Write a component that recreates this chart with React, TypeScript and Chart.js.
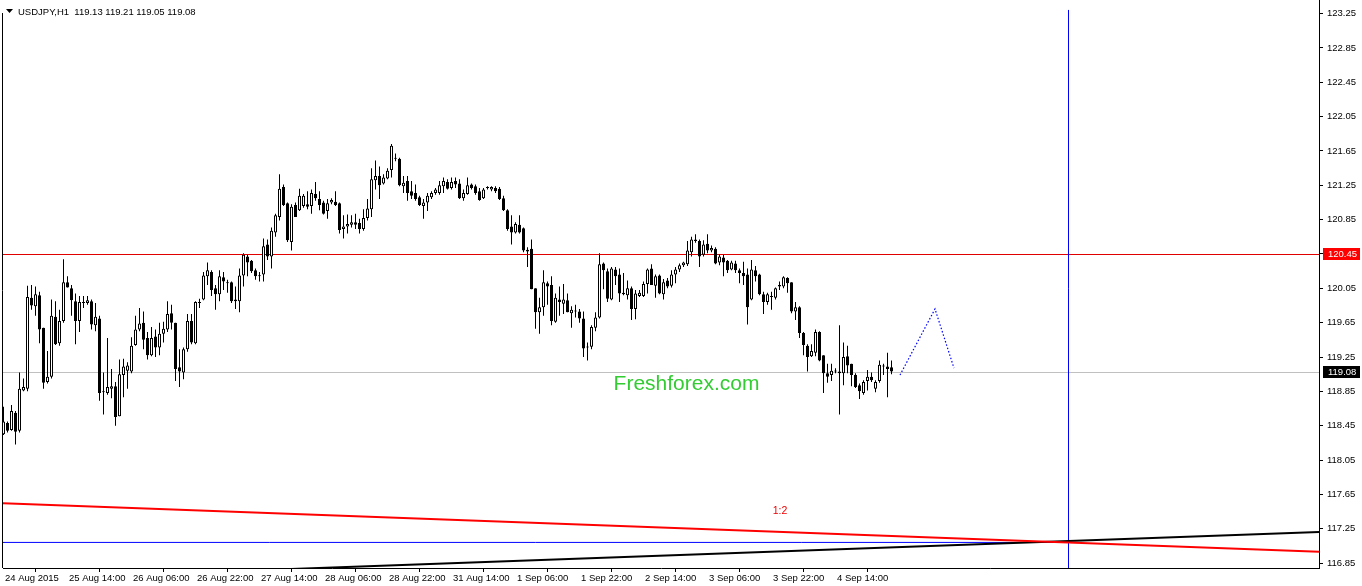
import React, { useEffect, useRef } from "react";
import { Chart, registerables } from "chart.js";

Chart.register(...registerables);

// ---------- DATA ----------
const symbolName = "USDJPY,H1";

const opens = [
  119.00,118.35,118.48,118.40,118.60,118.39,118.86,118.88,119.94,119.84,
  119.97,119.59,118.96,119.02,119.72,119.41,119.67,120.12,120.05,119.90,
  119.67,119.89,119.88,119.90,119.62,119.70,118.84,118.83,118.88,118.91,
  118.56,119.04,119.09,119.08,119.39,119.57,119.65,119.47,119.27,119.49,
  119.36,119.52,119.57,119.76,119.65,119.13,119.07,119.34,119.67,119.41,
  119.89,119.92,120.19,120.24,120.05,119.98,120.18,120.12,120.12,119.90,
  119.90,120.20,120.42,120.37,120.26,120.20,120.21,120.56,120.42,120.70,
  120.88,121.23,121.04,120.59,121.02,120.96,121.01,121.03,121.01,121.15,
  121.09,121.05,120.95,121.05,121.06,121.04,120.74,120.77,120.79,120.82,
  120.81,120.74,120.87,120.97,121.31,121.36,121.27,121.33,121.43,121.57,
  121.56,121.24,121.30,121.18,121.16,121.11,121.01,121.05,121.11,121.16,
  121.16,121.24,121.29,121.22,121.30,121.27,121.10,121.15,121.26,121.24,
  121.18,121.10,121.22,121.20,121.22,121.21,121.10,120.96,120.77,120.70,
  120.79,120.75,120.50,120.51,120.05,119.77,119.83,120.11,120.09,119.66,
  119.92,119.87,119.91,119.76,119.79,119.78,119.70,119.37,119.37,119.59,
  119.71,120.34,120.25,119.92,120.27,120.21,120.00,119.97,120.05,119.81,
  119.96,119.96,120.10,120.28,120.08,120.20,119.98,120.14,120.08,120.21,
  120.27,120.32,120.33,120.47,120.62,120.60,120.44,120.57,120.49,120.51,
  120.35,120.41,120.37,120.27,120.34,120.26,120.23,120.21,119.92,120.26,
  120.21,119.98,119.89,119.96,119.94,120.07,120.07,120.17,120.12,119.78,
  119.83,119.53,119.38,119.26,119.30,119.54,119.27,119.06,119.04,119.09,
  119.08,119.06,119.26,119.17,119.04,118.92,118.83,118.97,119.02,118.88,
  118.97,119.14,119.14,119.13,
];

const highs = [
  119.04,118.67,118.50,118.69,118.62,119.07,119.00,120.08,120.09,120.07,
  120.01,119.59,119.32,119.92,119.90,119.80,120.39,120.19,120.09,119.99,
  119.96,119.96,119.96,119.92,119.88,119.73,119.07,119.47,119.11,118.96,
  119.22,119.23,119.19,119.48,119.73,119.82,119.78,119.54,119.60,119.57,
  119.65,119.66,119.90,119.86,119.65,119.34,119.36,119.75,119.75,119.90,
  119.93,120.24,120.35,120.26,120.09,120.26,120.24,120.15,120.13,120.07,
  120.28,120.46,120.44,120.38,120.28,120.24,120.63,120.62,120.76,120.92,
  121.38,121.26,121.05,121.03,121.05,121.21,121.15,121.18,121.20,121.29,
  121.18,121.07,121.09,121.10,121.18,121.05,120.90,120.91,120.90,120.92,
  120.86,120.97,121.09,121.45,121.54,121.47,121.38,121.45,121.73,121.62,
  121.57,121.36,121.36,121.30,121.26,121.13,121.09,121.16,121.18,121.22,
  121.30,121.34,121.32,121.34,121.34,121.32,121.20,121.34,121.27,121.26,
  121.22,121.22,121.24,121.24,121.24,121.23,121.13,120.97,120.90,120.82,
  120.90,120.76,120.53,120.62,120.05,119.94,120.26,120.13,120.19,119.99,
  120.07,120.10,119.99,119.84,119.86,119.81,119.78,119.42,119.62,119.77,
  120.46,120.35,120.28,120.30,120.30,120.28,120.23,120.14,120.07,120.03,
  120.03,120.13,120.28,120.33,120.21,120.21,120.16,120.17,120.26,120.30,
  120.34,120.36,120.60,120.65,120.68,120.62,120.61,120.68,120.55,120.53,
  120.45,120.44,120.38,120.37,120.37,120.28,120.36,120.28,120.38,120.31,
  120.22,120.01,120.00,120.01,120.06,120.13,120.19,120.18,120.12,119.89,
  119.84,119.54,119.40,119.40,119.57,119.55,119.27,119.17,119.17,119.12,
  119.62,119.42,119.38,119.17,119.06,118.94,118.98,119.10,119.07,118.98,
  119.21,119.17,119.30,119.21,
];

const lows = [
  118.50,118.34,118.37,118.39,118.23,118.37,118.85,118.85,119.80,119.73,
  119.41,118.88,118.94,119.00,119.39,119.38,119.65,120.06,119.73,119.40,
  119.54,119.82,119.86,119.57,119.55,118.74,118.58,118.81,118.77,118.45,
  118.56,118.78,118.88,119.06,119.38,119.55,119.34,119.22,119.26,119.25,
  119.27,119.42,119.54,119.57,118.97,118.90,118.99,119.31,119.40,119.40,
  119.82,119.91,120.09,119.96,119.80,119.90,120.03,120.00,119.88,119.81,
  119.77,120.07,120.19,120.23,120.15,120.13,120.13,120.38,120.28,120.65,
  120.84,121.01,120.59,120.49,120.88,120.95,120.99,120.97,120.92,121.07,
  120.96,120.91,120.86,121.03,121.01,120.69,120.63,120.69,120.76,120.74,
  120.69,120.72,120.84,120.88,121.20,121.09,121.26,121.32,121.34,121.53,
  121.24,121.16,121.07,121.09,121.07,121.01,120.86,120.95,121.09,121.14,
  121.14,121.16,121.20,121.20,121.22,121.09,121.07,121.14,121.20,121.14,
  121.07,121.09,121.20,121.18,121.16,121.08,120.95,120.72,120.56,120.69,
  120.69,120.47,120.30,120.04,119.58,119.52,119.73,119.86,119.62,119.65,
  119.73,119.75,119.77,119.59,119.71,119.65,119.25,119.21,119.34,119.55,
  119.70,120.04,119.89,119.91,120.09,119.89,119.97,119.92,119.68,119.69,
  119.95,119.95,119.99,120.09,119.94,119.98,119.92,120.05,120.06,120.11,
  120.24,120.30,120.31,120.42,120.58,120.30,120.42,120.46,120.47,120.33,
  120.32,120.19,120.23,120.26,120.23,120.11,120.09,119.63,119.91,120.13,
  119.97,119.75,119.86,119.80,119.92,120.03,120.05,120.00,119.76,119.68,
  119.47,119.27,119.08,119.25,119.26,119.20,118.83,118.95,118.97,119.06,
  118.58,118.92,119.06,118.91,118.89,118.76,118.81,118.86,118.96,118.84,
  118.95,119.04,118.78,119.05,
];

const closes = [
  118.54,118.50,118.39,118.62,118.38,118.88,118.90,119.95,119.85,119.98,
  119.57,118.95,119.02,119.73,119.40,119.67,120.12,120.06,119.91,119.67,
  119.89,119.88,119.91,119.63,119.72,118.83,118.85,118.90,118.91,118.55,
  119.05,119.14,119.15,119.38,119.57,119.64,119.45,119.27,119.47,119.36,
  119.52,119.58,119.75,119.65,119.11,119.08,119.34,119.67,119.42,119.89,
  119.88,120.20,120.26,120.03,119.98,120.19,120.13,120.11,119.90,119.92,
  120.20,120.44,120.35,120.25,120.19,120.19,120.54,120.42,120.72,120.90,
  121.21,121.02,120.61,121.00,120.88,121.13,121.13,121.00,121.16,121.10,
  121.02,120.92,121.04,121.08,121.02,120.73,120.77,120.80,120.82,120.79,
  120.74,120.87,120.98,121.32,121.36,121.25,121.34,121.42,121.71,121.56,
  121.25,121.28,121.16,121.13,121.09,121.02,121.05,121.13,121.16,121.20,
  121.25,121.30,121.21,121.29,121.26,121.10,121.16,121.25,121.22,121.16,
  121.08,121.20,121.22,121.23,121.18,121.09,120.96,120.74,120.70,120.80,
  120.70,120.49,120.48,120.04,119.77,119.83,120.12,120.07,119.67,119.94,
  119.89,119.92,119.77,119.80,119.78,119.70,119.35,119.36,119.60,119.71,
  120.33,120.26,119.93,120.28,120.19,119.99,119.98,120.05,119.81,119.99,
  120.00,120.10,120.27,120.09,120.19,119.99,120.12,120.07,120.21,120.27,
  120.32,120.35,120.49,120.62,120.60,120.42,120.56,120.49,120.52,120.34,
  120.42,120.35,120.26,120.35,120.26,120.23,120.19,119.83,120.27,120.19,
  119.98,119.89,119.98,119.95,120.05,120.09,120.18,120.11,119.78,119.83,
  119.53,119.39,119.25,119.32,119.54,119.21,119.06,119.02,119.09,119.08,
  119.06,119.25,119.15,119.04,118.90,118.85,118.96,119.02,118.98,118.96,
  119.16,119.15,119.11,119.08,
];

const xTickLabels = [
  "24 Aug 2015", "25 Aug 14:00", "26 Aug 06:00", "26 Aug 22:00", "27 Aug 14:00",
  "28 Aug 06:00", "28 Aug 22:00", "31 Aug 14:00", "1 Sep 06:00", "1 Sep 22:00",
  "2 Sep 14:00", "3 Sep 06:00", "3 Sep 22:00", "4 Sep 14:00",
];
const barsPerXLabel = 16;

const yTickValues = [
  116.85, 117.25, 117.65, 118.05, 118.45, 118.85, 119.25, 119.65, 120.05,
  120.45, 120.85, 121.25, 121.65, 122.05, 122.45, 122.85, 123.25,
];

const xMin = 0.875;
const xMax = 329.875;
const yMin = 116.792;
const yMax = 123.296;

const levelRed = 120.45;
const verticalLineAt = 267.125;

const redTrend = [{ x: 0.875, y: 117.545 }, { x: 329.875, y: 116.98 }];
const blackTrend = [{ x: 0.875, y: 116.66 }, { x: 329.875, y: 117.21 }];
const blueLevel = [{ x: 0.875, y: 117.09 }, { x: 267.125, y: 117.09 }];
const forecastPath = [
  { x: 225.125, y: 119.04 },
  { x: 233.875, y: 119.81 },
  { x: 238.625, y: 119.12 },
];
const ratioLabel = { text: "1:2", x: 195.125, y: 117.45 };
const watermark = { text: "Freshforex.com", x: 171.75, y: 118.93 };

const FONT_FAMILY = "'Liberation Sans', Arial, sans-serif";
const SMALL_SIZE = 9.5;
const SMALL_FONT = `${SMALL_SIZE}px ${FONT_FAMILY}`;

// ---------- CHART ----------
export default function App() {
  const ref = useRef<HTMLCanvasElement | null>(null);

  useEffect(() => {
    const canvas = ref.current;
    if (!canvas) return;
    const n = opens.length;
    const lastClose = closes[n - 1];

    const bodies = opens.map((o, i) => ({ x: i, y: [o, closes[i]] }));
    const wicks = lows.map((l, i) => ({ x: i, y: [l, highs[i]] }));
    const bodyColors = opens.map((o, i) => (closes[i] >= o ? "#ffffff" : "#000000"));

    const overlay = {
      id: "overlay",
      beforeDatasetsDraw(chart: any) {
        const { ctx, chartArea: a, scales } = chart;
        const xs = scales.x;
        const ys = scales.y;
        ctx.save();
        ctx.beginPath();
        ctx.rect(a.left, a.top, a.right - a.left, a.bottom - a.top);
        ctx.clip();
        ctx.lineWidth = 1;
        const hline = (v: number, color: string) => {
          const py = Math.round(ys.getPixelForValue(v)) + 0.5;
          ctx.strokeStyle = color;
          ctx.beginPath();
          ctx.moveTo(a.left, py);
          ctx.lineTo(a.right, py);
          ctx.stroke();
        };
        hline(lastClose, "#c0c0c0");
        hline(levelRed, "#e00000");
        const vx = Math.round(xs.getPixelForValue(verticalLineAt)) + 0.5;
        ctx.strokeStyle = "#0000ff";
        ctx.beginPath();
        ctx.moveTo(vx, a.top);
        ctx.lineTo(vx, a.bottom);
        ctx.stroke();
        ctx.restore();
      },
      afterDatasetsDraw(chart: any) {
        const { ctx, scales } = chart;
        const xs = scales.x;
        const ys = scales.y;
        ctx.save();
        ctx.textBaseline = "middle";
        ctx.textAlign = "center";
        ctx.fillStyle = "#ee0000";
        ctx.font = `10.5px ${FONT_FAMILY}`;
        ctx.fillText(ratioLabel.text, xs.getPixelForValue(ratioLabel.x), ys.getPixelForValue(ratioLabel.y));
        ctx.fillStyle = "#33cc33";
        ctx.font = `21px ${FONT_FAMILY}`;
        ctx.fillText(watermark.text, xs.getPixelForValue(watermark.x), ys.getPixelForValue(watermark.y));
        ctx.restore();
      },
      afterDraw(chart: any) {
        const { ctx, chartArea: a, scales } = chart;
        const ys = scales.y;
        ctx.save();
        // left frame
        ctx.strokeStyle = "#000";
        ctx.lineWidth = 1;
        ctx.beginPath();
        ctx.moveTo(2.5, 13);
        ctx.lineTo(2.5, a.bottom);
        ctx.stroke();
        // right axis line up to the top edge
        ctx.beginPath();
        ctx.moveTo(a.right + 0.5, 0);
        ctx.lineTo(a.right + 0.5, a.top);
        ctx.stroke();
        // price boxes
        const box = (v: number, bg: string) => {
          const py = Math.round(ys.getPixelForValue(v));
          ctx.fillStyle = bg;
          ctx.fillRect(a.right + 4, py - 6, 37, 12);
          ctx.fillStyle = "#fff";
          ctx.font = SMALL_FONT;
          ctx.textAlign = "left";
          ctx.textBaseline = "middle";
          ctx.fillText(v.toFixed(2), a.right + 9, py + 0.5);
        };
        box(levelRed, "#ff0000");
        box(lastClose, "#000000");
        // header
        ctx.fillStyle = "#000";
        ctx.beginPath();
        ctx.moveTo(6, 9);
        ctx.lineTo(13, 9);
        ctx.lineTo(9.5, 13);
        ctx.closePath();
        ctx.fill();
        ctx.font = SMALL_FONT;
        ctx.textAlign = "left";
        ctx.textBaseline = "middle";
        const header =
          symbolName + "  " +
          [opens[n - 1], highs[n - 1], lows[n - 1], closes[n - 1]].map((v) => v.toFixed(2)).join(" ");
        ctx.fillText(header, 18, 12);
        ctx.restore();
      },
    };

    const chart = new Chart(canvas, {
      type: "bar",
      data: {
        datasets: [
          {
            type: "bar",
            data: bodies as any,
            backgroundColor: bodyColors,
            borderColor: "#000",
            borderWidth: 1,
            borderSkipped: false,
            barThickness: 3,
            grouped: false,
            minBarLength: 1,
            inflateAmount: 0,
            order: 0,
          } as any,
          {
            type: "bar",
            data: wicks as any,
            backgroundColor: "#000",
            borderWidth: 0,
            barThickness: 1,
            grouped: false,
            inflateAmount: 0,
            order: 1,
          } as any,
          {
            type: "line",
            data: redTrend as any,
            borderColor: "#ff0000",
            borderWidth: 2,
            pointRadius: 0,
            order: 2,
          } as any,
          {
            type: "line",
            data: blackTrend as any,
            borderColor: "#000000",
            borderWidth: 2,
            pointRadius: 0,
            order: 3,
          } as any,
          {
            type: "line",
            data: blueLevel as any,
            borderColor: "#0000ff",
            borderWidth: 1,
            pointRadius: 0,
            order: 4,
          } as any,
          {
            type: "line",
            data: forecastPath as any,
            borderColor: "#0000ff",
            borderWidth: 1.2,
            borderDash: [1.5, 2],
            pointRadius: 0,
            order: 5,
          } as any,
        ],
      },
      options: {
        responsive: false,
        animation: false,
        events: [],
        layout: { padding: { left: 3, top: 3, right: 0, bottom: 0 } },
        plugins: { legend: { display: false }, tooltip: { enabled: false } },
        scales: {
          x: {
            type: "linear",
            min: xMin,
            max: xMax,
            offset: false,
            afterBuildTicks: (scale: any) => {
              scale.ticks = xTickLabels.map((_, k) => ({ value: xMin + k * barsPerXLabel }));
            },
            afterFit: (scale: any) => {
              scale.height = 18;
            },
            ticks: {
              autoSkip: false,
              maxRotation: 0,
              minRotation: 0,
              align: "start",
              labelOffset: 2,
              padding: 1,
              color: "#000",
              font: { family: FONT_FAMILY, size: SMALL_SIZE },
              callback: (_v: any, idx: number) => xTickLabels[idx],
            },
            grid: { display: true, drawOnChartArea: false, drawTicks: true, tickLength: 4, color: "#000" },
            border: { display: true, color: "#000", width: 1 },
          } as any,
          y: {
            type: "linear",
            position: "right",
            min: yMin,
            max: yMax,
            afterBuildTicks: (scale: any) => {
              scale.ticks = yTickValues.map((v) => ({ value: v }));
            },
            afterFit: (scale: any) => {
              scale.width = 43;
            },
            ticks: {
              padding: 4,
              color: "#000",
              font: { family: FONT_FAMILY, size: SMALL_SIZE },
              callback: (v: any) => Number(v).toFixed(2),
            },
            grid: { display: true, drawOnChartArea: false, drawTicks: true, tickLength: 4, color: "#000" },
            border: { display: true, color: "#000", width: 1 },
          } as any,
        },
      },
      plugins: [overlay],
    });

    return () => chart.destroy();
  }, []);

  return (
    <div style={{ position: "absolute", left: 0, top: 0, width: 1362, height: 586, background: "#fff" }}>
      <canvas ref={ref} width={1362} height={586} style={{ display: "block" }} />
    </div>
  );
}
